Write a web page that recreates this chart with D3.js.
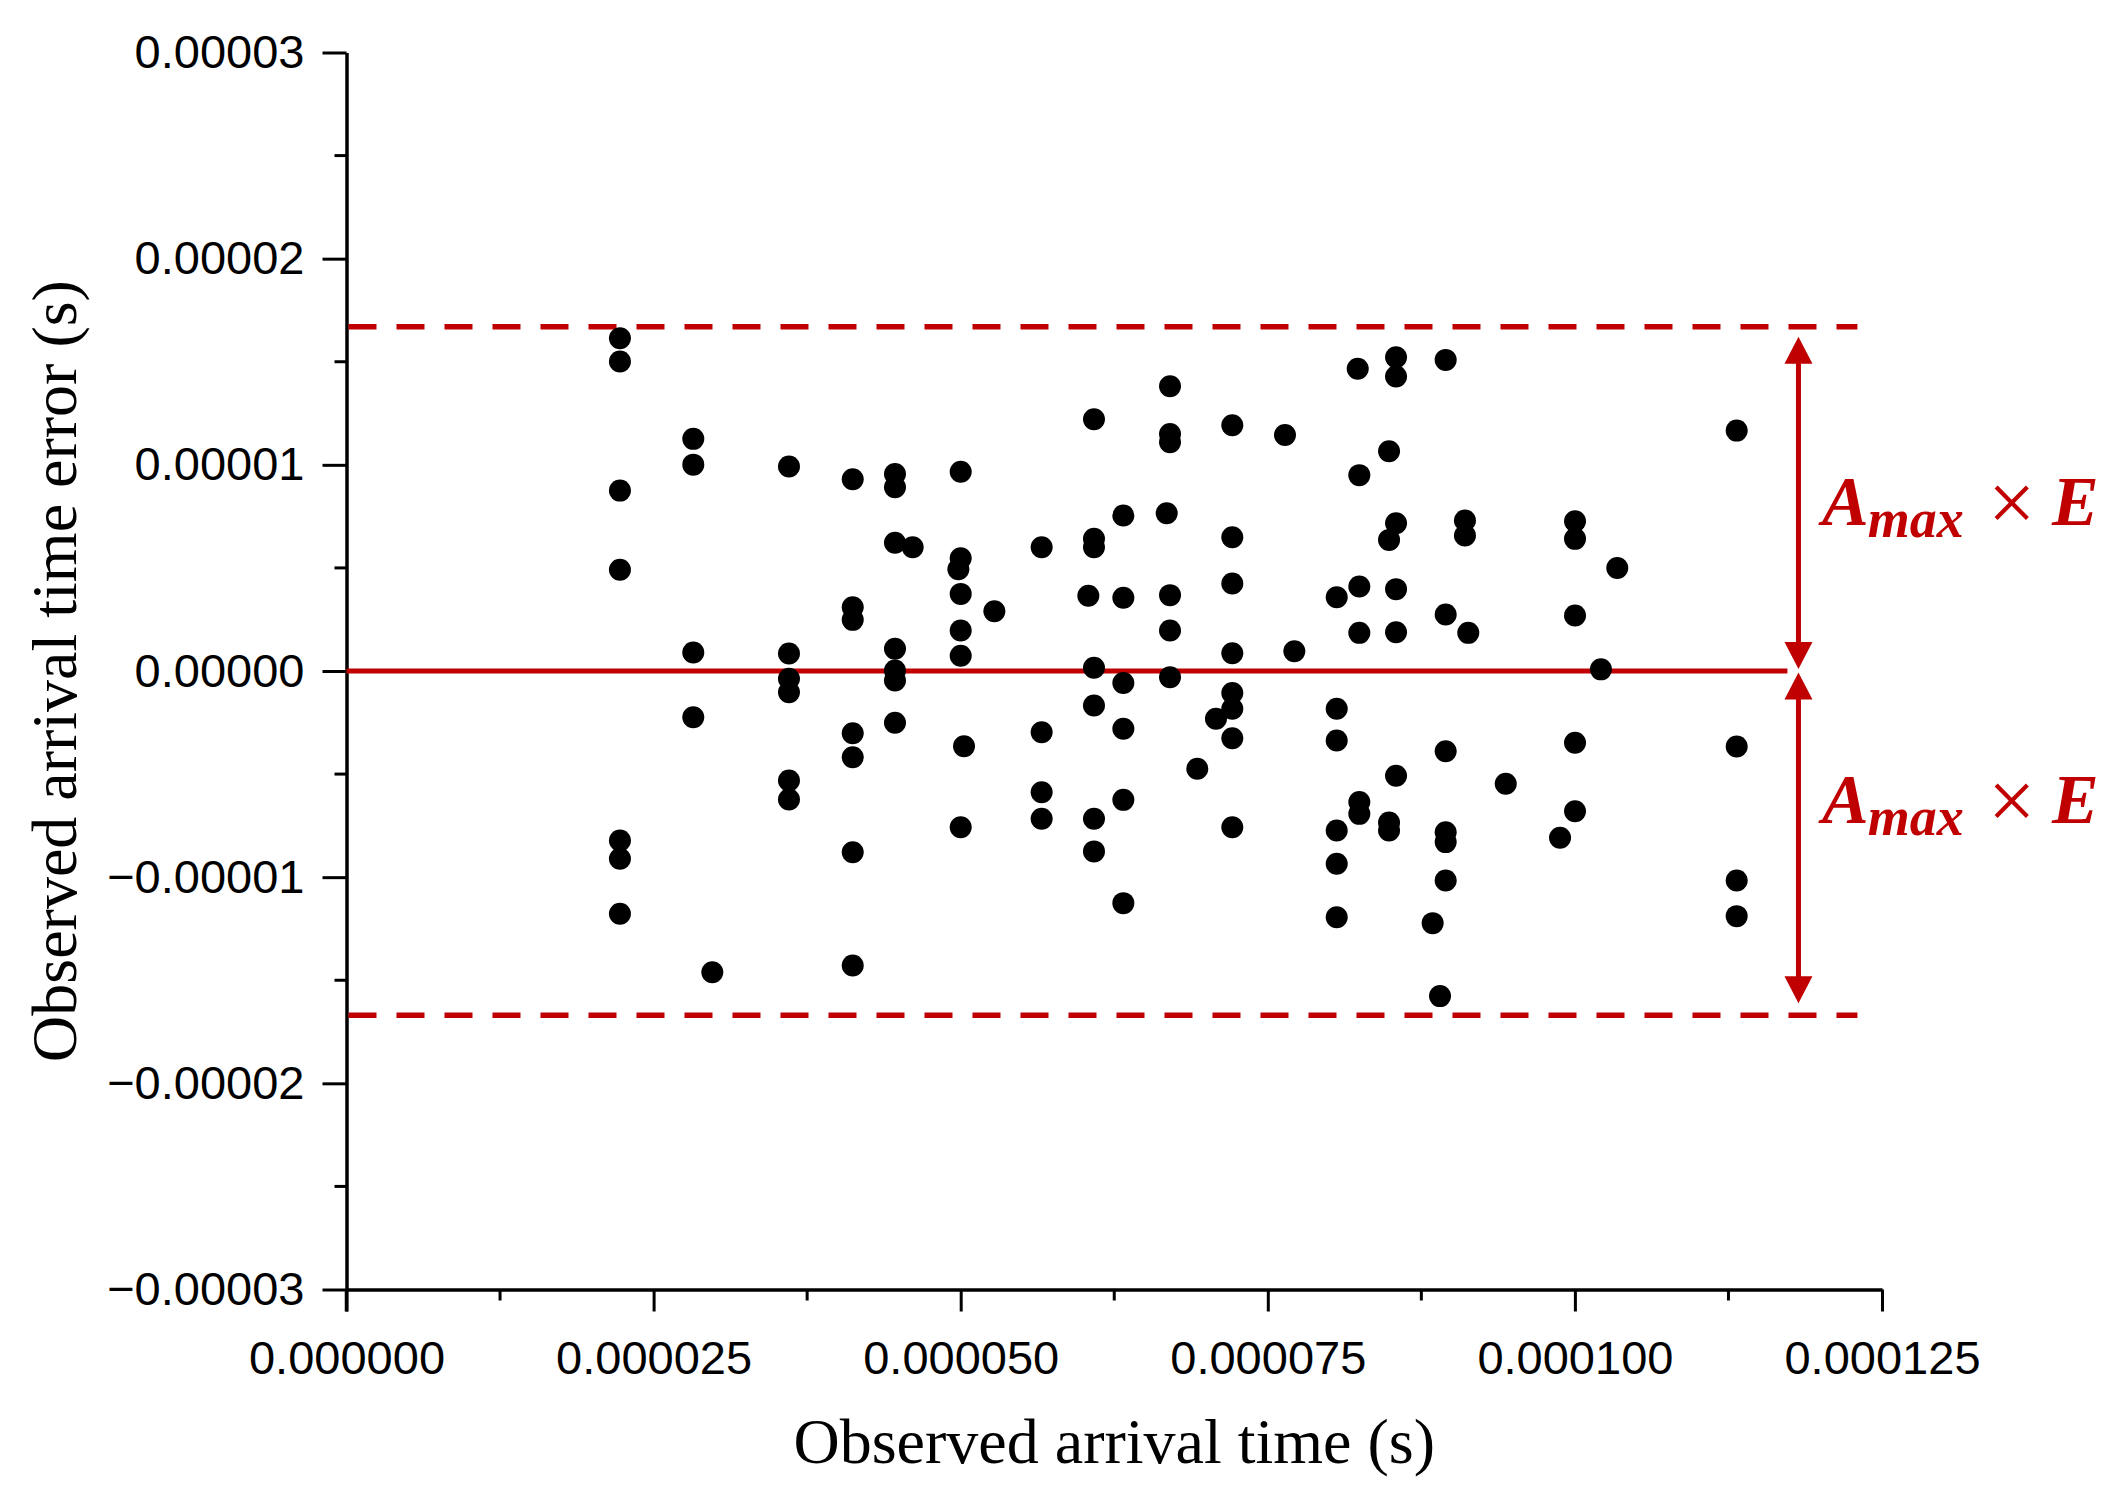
<!DOCTYPE html>
<html>
<head>
<meta charset="utf-8">
<script src="https://cdn.jsdelivr.net/npm/d3@7"></script>
<style>
  html, body { margin: 0; padding: 0; background: #ffffff; }
  svg { display: block; }
</style>
</head>
<body>
<svg id="chart" width="2106" height="1495"></svg>
<script>
// ---------------- DATA (values in microseconds, converted to seconds below) ----------------
const US = 1e-6;
const arrivalTimeUs = [
  22.26, 22.26, 22.26, 22.26, 22.26, 22.26, 22.26,
  28.23, 28.23, 28.23, 28.23,
  29.78,
  36.02, 36.02, 36.02, 36.02, 36.02, 36.02,
  41.21, 41.21, 41.21, 41.21, 41.21, 41.21, 41.21,
  44.65, 44.65, 44.65, 44.65, 44.65, 44.65, 44.65,
  46.09,
  49.81,
  50.00, 50.00, 50.00, 50.00, 50.00, 50.00,
  50.27,
  52.74,
  56.59, 56.59, 56.59, 56.59,
  60.39,
  60.85, 60.85, 60.85, 60.85, 60.85, 60.85, 60.85,
  63.24, 63.24, 63.24, 63.24, 63.24, 63.24,
  66.77,
  67.04, 67.04, 67.04, 67.04, 67.04, 67.04,
  69.26,
  70.78,
  72.11, 72.11, 72.11, 72.11, 72.11, 72.11, 72.11, 72.11,
  76.40,
  77.16,
  80.61, 80.61, 80.61, 80.61, 80.61, 80.61,
  82.32,
  82.45, 82.45, 82.45, 82.45, 82.45,
  84.87, 84.87, 84.87, 84.87,
  85.44, 85.44, 85.44, 85.44, 85.44, 85.44,
  88.42,
  89.02,
  89.48, 89.48, 89.48, 89.48, 89.48, 89.48,
  91.05, 91.05,
  91.32,
  94.37,
  98.79,
  100.01, 100.01, 100.01, 100.01, 100.01,
  102.12,
  103.45,
  113.17, 113.17, 113.17, 113.17
];
const timeErrorUs = [
  16.14, 15.01, 8.75, 4.91, -8.22, -9.11, -11.77,
  11.26, 10.01, 0.90, -2.24,
  -14.61,
  9.92, 0.85, -0.38, -1.03, -5.31, -6.23,
  9.30, 3.09, 2.48, -3.02, -4.18, -8.79, -14.28,
  9.56, 8.91, 6.22, 1.08, 0.02, -0.46, -2.51,
  6.00,
  4.94,
  9.66, 5.47, 3.74, 1.96, 0.74, -7.58,
  -3.65,
  2.90,
  6.00, -2.97, -5.88, -7.17,
  3.65,
  12.21, 6.41, 6.00, 0.16, -1.67, -7.17, -8.75,
  7.54, 3.55, -0.58, -2.80, -6.25, -11.26,
  7.65,
  13.81, 11.50, 11.10, 3.68, 1.96, -0.30,
  -4.74,
  -2.32,
  11.92, 6.49, 4.24, 0.86, -1.07, -1.83, -3.26, -7.58,
  11.45,
  0.96,
  3.58, -1.83, -3.37, -7.74, -9.35, -11.94,
  14.66,
  9.50, 4.10, 1.85, -6.36, -6.93,
  10.66, 6.36, -7.35, -7.74,
  15.22, 14.28, 7.17, 3.97, 1.88, -5.08,
  -12.23,
  -15.77,
  15.09, 2.74, -3.89, -7.82, -8.30, -10.16,
  7.30, 6.57,
  1.85,
  -5.47,
  -8.09,
  7.26, 6.41, 2.69, -3.48, -6.80,
  0.08,
  5.00,
  11.66, -3.66, -10.16, -11.89
];

const xTicks = [0, 0.000025, 0.00005, 0.000075, 0.0001, 0.000125];
const xMinorTicks = [0.0000125, 0.0000375, 0.0000625, 0.0000875, 0.0001125];
const yTicks = [-0.00003, -0.00002, -0.00001, 0, 0.00001, 0.00002, 0.00003];
const yMinorTicks = [-0.000025, -0.000015, -0.000005, 0.000005, 0.000015, 0.000025];

const limitValue = 1.67e-5;          // A_max × E
const refLineEndX = 1.173e-4;        // end of solid zero line
const limitLineEndX = 1.23e-4;       // end of dashed limit lines
const arrowX = 1.182e-4;             // x of the double arrows
const annotationLabel = ["A", "max", "×", "E"];
const xTitle = "Observed arrival time (s)";
const yTitle = "Observed arrival time error (s)";

// ---------------- CHART ----------------
const RED = "#c00000";
const svg = d3.select("#chart");
const xScale = d3.scaleLinear().domain([0, 0.000125]).range([346.5, 1882]);
const yScale = d3.scaleLinear().domain([-0.00003, 0.00003]).range([1289.5, 52.5]);

const points = arrivalTimeUs.map((x, i) => ({ x: x * US, y: timeErrorUs[i] * US }));

const axisFont = "'Liberation Sans', Arial, Helvetica, sans-serif";
const serifFont = "'Liberation Serif', 'Times New Roman', Times, serif";

// X axis
const xAxis = d3.axisBottom(xScale)
  .tickValues(xTicks)
  .tickFormat(d3.format(".6f"))
  .tickSize(22)
  .tickPadding(29)
  .tickSizeOuter(0);
const gx = svg.append("g")
  .attr("transform", `translate(0,${yScale(-0.00003)})`)
  .call(xAxis);
gx.select(".domain").attr("stroke", "#000").attr("stroke-width", 3.5);
gx.selectAll(".tick line").attr("stroke", "#000").attr("stroke-width", 3);
gx.selectAll(".tick text")
  .attr("font-family", axisFont).attr("font-size", 47).attr("fill", "#000");
// x minor ticks
svg.append("g").selectAll("line").data(xMinorTicks).join("line")
  .attr("x1", d => xScale(d)).attr("x2", d => xScale(d))
  .attr("y1", yScale(-0.00003)).attr("y2", yScale(-0.00003) + 11)
  .attr("stroke", "#000").attr("stroke-width", 3);

// Y axis
const yAxis = d3.axisLeft(yScale)
  .tickValues(yTicks)
  .tickFormat(d3.format(".5f"))
  .tickSize(24)
  .tickPadding(18)
  .tickSizeOuter(0);
const gy = svg.append("g")
  .attr("transform", `translate(${xScale(0)},0)`)
  .call(yAxis);
gy.select(".domain").attr("stroke", "#000").attr("stroke-width", 3.5);
gy.selectAll(".tick line").attr("stroke", "#000").attr("stroke-width", 3);
gy.selectAll(".tick text")
  .attr("font-family", axisFont).attr("font-size", 47).attr("fill", "#000");
// y minor ticks
svg.append("g").selectAll("line").data(yMinorTicks).join("line")
  .attr("x1", xScale(0) - 12).attr("x2", xScale(0))
  .attr("y1", d => yScale(d)).attr("y2", d => yScale(d))
  .attr("stroke", "#000").attr("stroke-width", 3);
// extend y-axis line down to the x tick length (as in reference)
svg.append("line")
  .attr("x1", xScale(0)).attr("x2", xScale(0))
  .attr("y1", yScale(-0.00003)).attr("y2", yScale(-0.00003) + 22)
  .attr("stroke", "#000").attr("stroke-width", 3.5);

// Reference lines
svg.append("line")
  .attr("x1", xScale(0)).attr("x2", xScale(refLineEndX))
  .attr("y1", yScale(0)).attr("y2", yScale(0))
  .attr("stroke", RED).attr("stroke-width", 5);
[limitValue, -limitValue].forEach(v => {
  svg.append("line")
    .attr("x1", xScale(0) + 2).attr("x2", xScale(limitLineEndX))
    .attr("y1", yScale(v)).attr("y2", yScale(v))
    .attr("stroke", RED).attr("stroke-width", 5.5)
    .attr("stroke-dasharray", "28,20");
});

// Points
svg.append("g").selectAll("circle").data(points).join("circle")
  .attr("cx", d => xScale(d.x))
  .attr("cy", d => yScale(d.y))
  .attr("r", 11)
  .attr("fill", "#000");

// Double arrows
const ax = xScale(arrowX);
const headW = 14, headH = 27;
function arrow(yTop, yBottom) {
  svg.append("line")
    .attr("x1", ax).attr("x2", ax)
    .attr("y1", yTop + headH - 2).attr("y2", yBottom - headH + 2)
    .attr("stroke", RED).attr("stroke-width", 5);
  svg.append("path")
    .attr("d", `M${ax},${yTop} L${ax - headW},${yTop + headH} L${ax + headW},${yTop + headH} Z`)
    .attr("fill", RED);
  svg.append("path")
    .attr("d", `M${ax},${yBottom} L${ax - headW},${yBottom - headH} L${ax + headW},${yBottom - headH} Z`)
    .attr("fill", RED);
}
arrow(yScale(limitValue) + 10, yScale(0) - 2);
arrow(yScale(0) + 1.5, yScale(-limitValue) - 12);

// Annotation labels: A_max × E
function annotation(baselineY) {
  const t = svg.append("text")
    .attr("x", 1822).attr("y", baselineY)
    .attr("font-family", serifFont)
    .attr("fill", RED);
  t.append("tspan").text(annotationLabel[0])
    .attr("font-size", 70).attr("font-weight", "bold").attr("font-style", "italic");
  t.append("tspan").text(annotationLabel[1])
    .attr("dy", 12).attr("dx", -1)
    .attr("font-size", 54).attr("font-weight", "bold").attr("font-style", "italic");
  t.append("tspan").text(annotationLabel[2])
    .attr("x", 1988).attr("dy", -6)
    .attr("font-size", 84).attr("font-weight", "normal");
  t.append("tspan").text(annotationLabel[3])
    .attr("x", 2052).attr("dy", -6)
    .attr("font-size", 70).attr("font-weight", "bold").attr("font-style", "italic");
}
annotation(yScale(limitValue / 2) + 26);
annotation(yScale(-limitValue / 2) - 20);

// Axis titles
svg.append("text")
  .attr("x", (xScale(0) + xScale(0.000125)) / 2)
  .attr("y", 1463)
  .attr("text-anchor", "middle")
  .attr("font-family", serifFont)
  .attr("font-size", 64)
  .attr("fill", "#000")
  .text(xTitle);
svg.append("text")
  .attr("transform", `translate(76,${yScale(0)}) rotate(-90)`)
  .attr("text-anchor", "middle")
  .attr("font-family", serifFont)
  .attr("font-size", 64)
  .attr("fill", "#000")
  .text(yTitle);
</script>
</body>
</html>
